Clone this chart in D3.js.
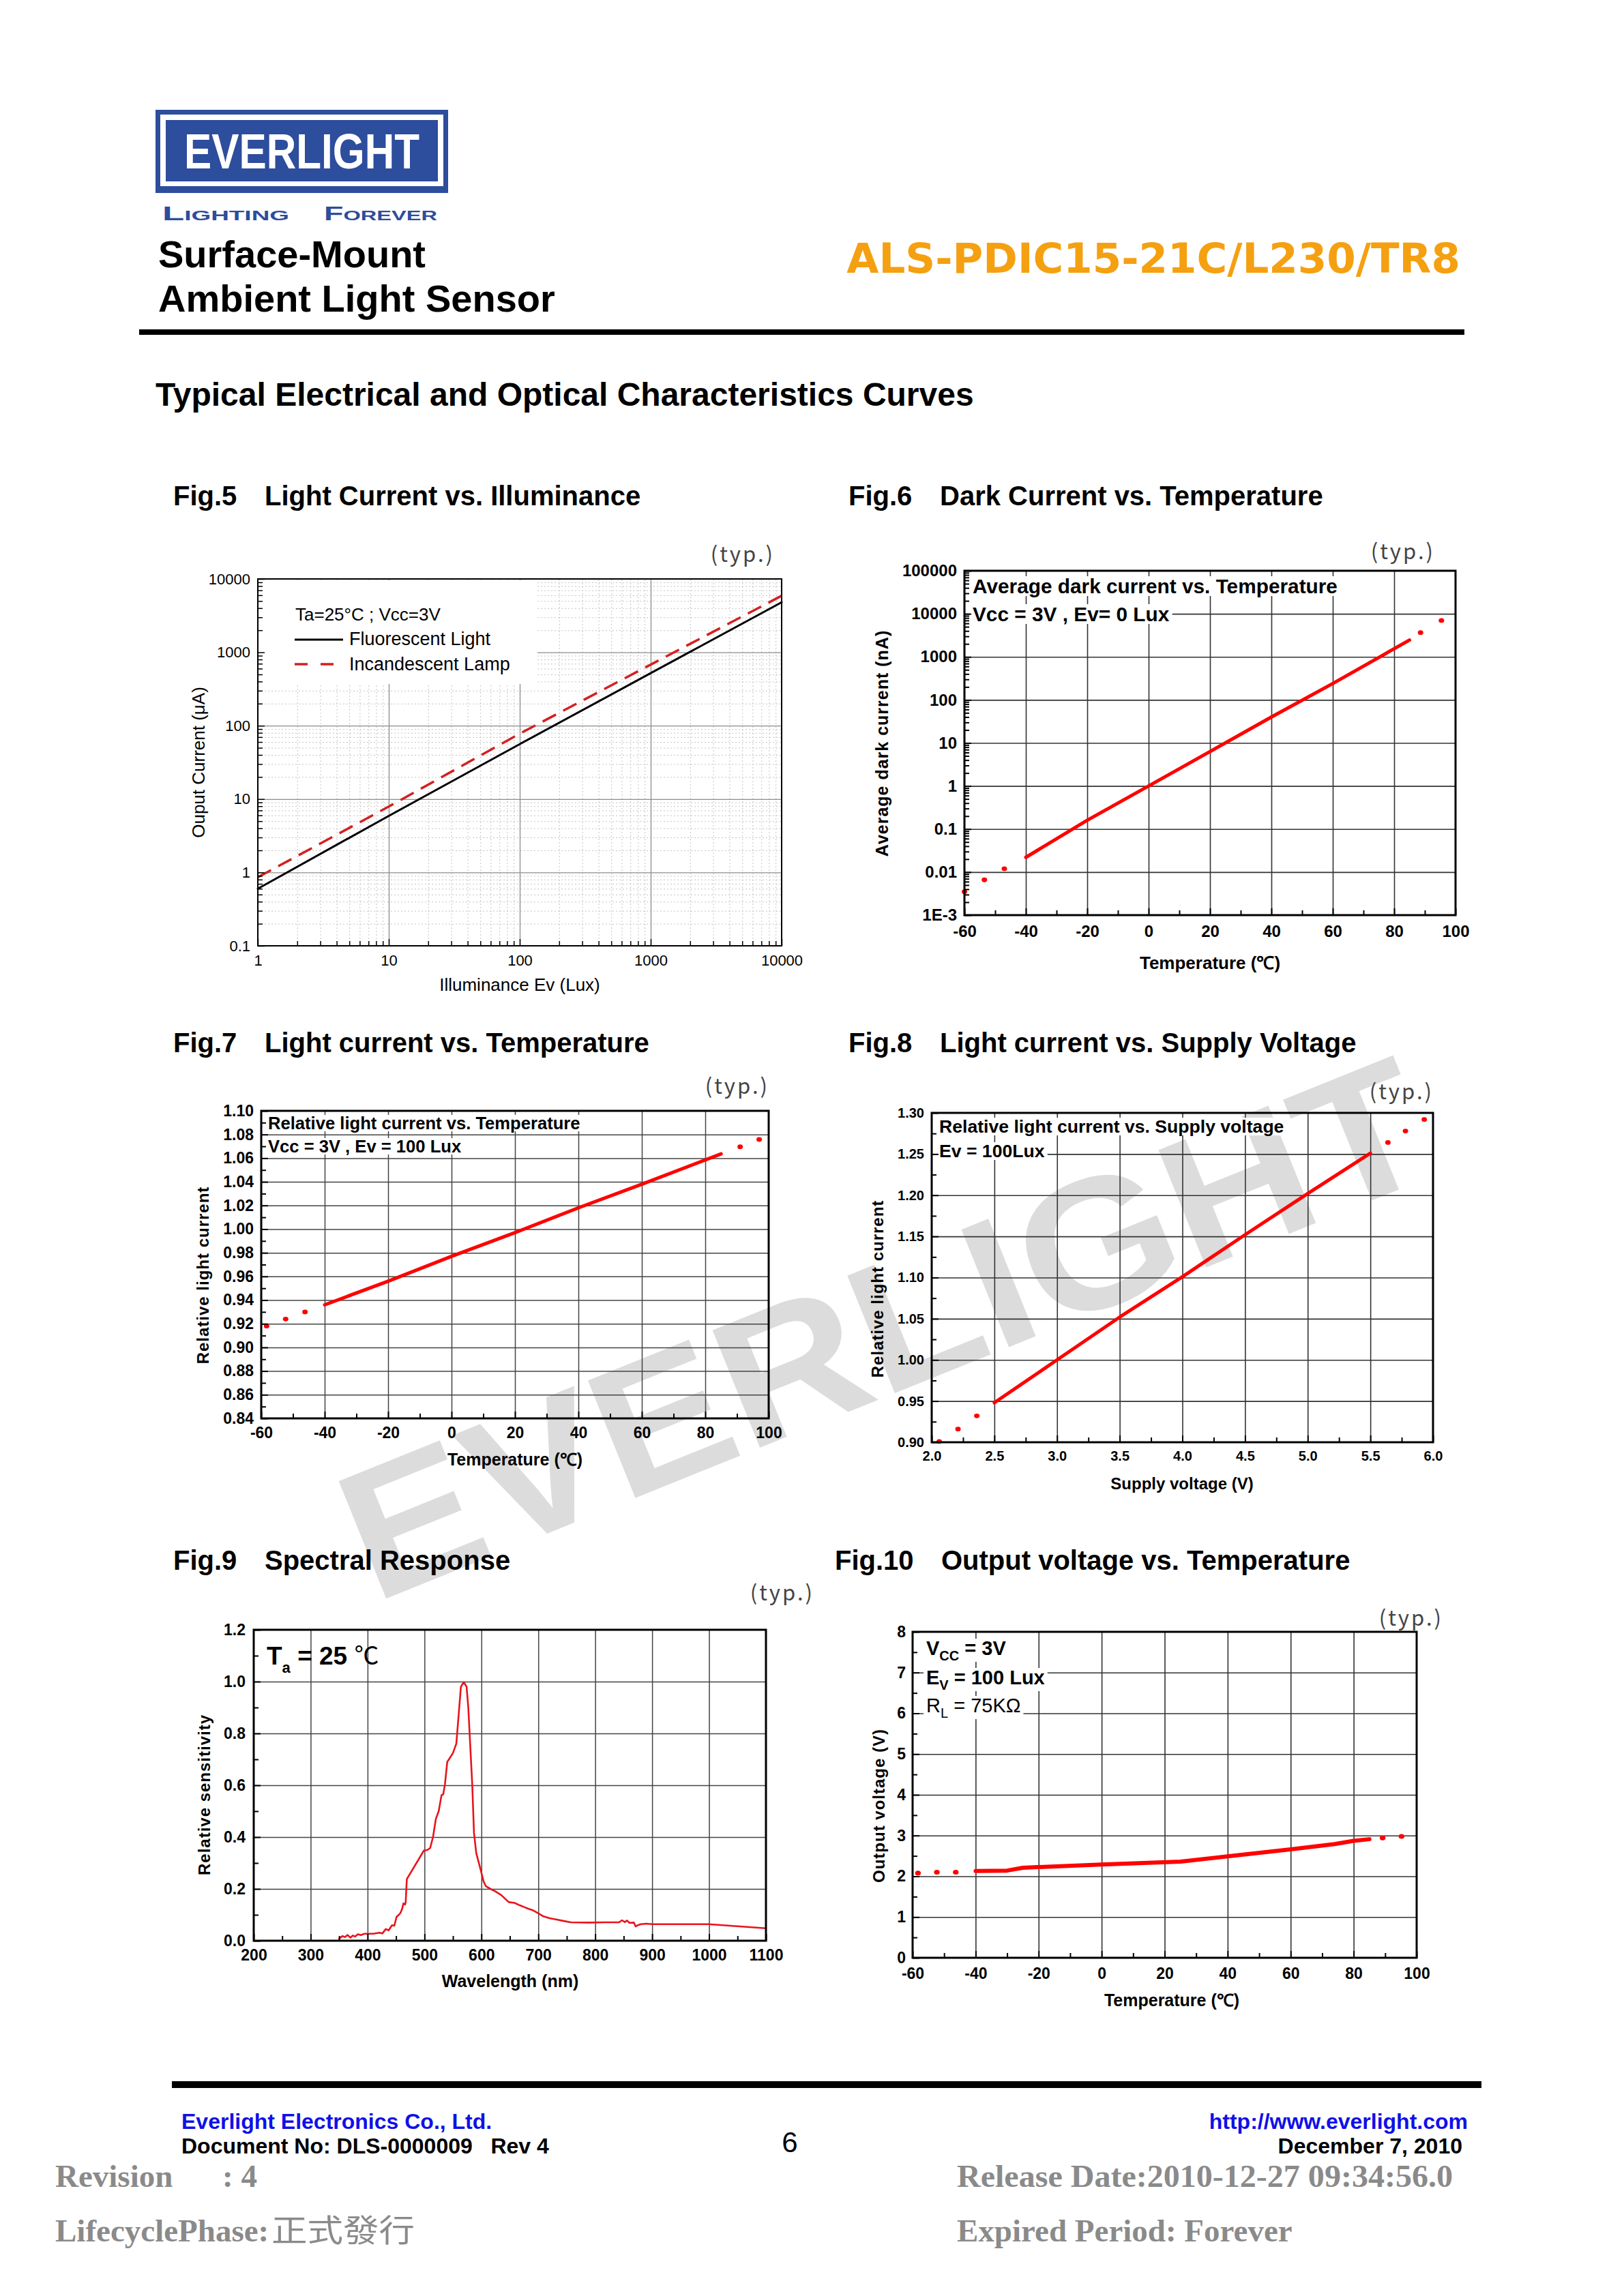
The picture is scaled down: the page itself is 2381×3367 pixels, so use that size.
<!DOCTYPE html>
<html><head><meta charset="utf-8">
<script src="https://cdn.jsdelivr.net/npm/d3@7"></script>
<style>
html,body{margin:0;padding:0;background:#fff;}
svg{display:block;}
</style></head><body>
<svg id="page" width="2381" height="3367"></svg>
<script>
// ---------------- DATA ----------------
// Fig.5 Light current vs illuminance
const fig5Lux = [1, 10, 100, 1000, 10000];
const fig5Fluorescent = [0.6, 5.9, 56, 520, 4800];
const fig5Incandescent = [0.86, 7.9, 78, 680, 5900];
const fig5XTicks = [1, 10, 100, 1000, 10000];
const fig5YTicks = [0.1, 1, 10, 100, 1000, 10000];
const fig5YLabels = ["0.1", "1", "10", "100", "1000", "10000"];

// Fig.6 Dark current vs temperature
const fig6Temp = [-40, -20, 0, 20, 40, 60, 85];
const fig6Dark = [0.022, 0.16, 1, 6.3, 40, 240, 2450];
const fig6DotTemp = [-60, -53.5, -47, 88.6, 95.4];
const fig6DotDark = [0.0035, 0.0066, 0.012, 3660, 7000];
const tempTicks = [-60, -40, -20, 0, 20, 40, 60, 80, 100];
const tempGrid = [-40, -20, 0, 20, 40, 60, 80];
const tempMinor = [-50, -30, -10, 10, 30, 50, 70, 90];
const fig6YTicks = [1e-3, 0.01, 0.1, 1, 10, 100, 1000, 10000, 100000];
const fig6YLabels = ["1E-3", "0.01", "0.1", "1", "10", "100", "1000", "10000", "100000"];

// Fig.7 Relative light current vs temperature
const fig7Temp = [-40, -20, 0, 20, 40, 60, 85];
const fig7Rel = [0.936, 0.956, 0.977, 0.997, 1.018, 1.038, 1.0636];
const fig7DotTemp = [-58.3, -52.3, -46.2, 91, 97];
const fig7DotRel = [0.918, 0.924, 0.930, 1.0696, 1.0758];
const fig7YTicks = [0.84, 0.86, 0.88, 0.90, 0.92, 0.94, 0.96, 0.98, 1.00, 1.02, 1.04, 1.06, 1.08, 1.10];
const fig7YGrid = [0.86, 0.88, 0.90, 0.92, 0.94, 0.96, 0.98, 1.00, 1.02, 1.04, 1.06, 1.08];
const fig7YMinor = [0.85, 0.87, 0.89, 0.91, 0.93, 0.95, 0.97, 0.99, 1.01, 1.03, 1.05, 1.07, 1.09];

// Fig.8 Relative light current vs supply voltage
const fig8Volt = [2.5, 3.0, 3.5, 4.0, 4.5, 5.0, 5.5];
const fig8Rel = [0.948, 1.0, 1.052, 1.101, 1.152, 1.202, 1.251];
const fig8DotVolt = [2.06, 2.21, 2.36, 5.64, 5.78, 5.93];
const fig8DotRel = [0.901, 0.916, 0.932, 1.264, 1.278, 1.292];
const fig8XTicks = [2.0, 2.5, 3.0, 3.5, 4.0, 4.5, 5.0, 5.5, 6.0];
const fig8XGrid = [2.5, 3.0, 3.5, 4.0, 4.5, 5.0, 5.5];
const fig8XMinor = [2.25, 2.75, 3.25, 3.75, 4.25, 4.75, 5.25, 5.75];
const fig8YTicks = [0.90, 0.95, 1.00, 1.05, 1.10, 1.15, 1.20, 1.25, 1.30];
const fig8YGrid = [0.95, 1.00, 1.05, 1.10, 1.15, 1.20, 1.25];
const fig8YMinor = [0.925, 0.975, 1.025, 1.075, 1.125, 1.175, 1.225, 1.275];

// Fig.9 Spectral response
const specWavelength = [350,356,360,365,370,374,378,383,388,395,410,421,426,432,437,443,447,451,455,458,461,463,466,467,469,499,505,510,515,520,525,530,533,536,540,543,550,556,560,564,569,574,577,580,584,587,591,598,604,608,616,624,635,648,658,665,675,683,690,698,709,720,731,745,757,790,816,842,847,852,856,860,868,871,875,880,890,900,927,960,999,1100];
const specSensitivity = [0.008,0.018,0.014,0.022,0.012,0.02,0.016,0.025,0.022,0.027,0.027,0.031,0.028,0.045,0.04,0.06,0.058,0.092,0.1,0.108,0.125,0.144,0.14,0.149,0.238,0.348,0.35,0.358,0.40,0.47,0.50,0.562,0.565,0.604,0.69,0.70,0.724,0.761,0.87,0.98,0.998,0.98,0.9,0.771,0.6,0.416,0.338,0.28,0.228,0.21,0.2,0.191,0.176,0.149,0.146,0.139,0.13,0.123,0.118,0.108,0.094,0.087,0.082,0.076,0.071,0.07,0.071,0.071,0.079,0.072,0.078,0.069,0.07,0.055,0.06,0.064,0.066,0.064,0.064,0.064,0.064,0.048];
const fig9XTicks = [200, 300, 400, 500, 600, 700, 800, 900, 1000, 1100];
const fig9XGrid = [300, 400, 500, 600, 700, 800, 900, 1000];
const fig9XMinor = [250, 350, 450, 550, 650, 750, 850, 950, 1050];
const fig9YTicks = [0, 0.2, 0.4, 0.6, 0.8, 1.0, 1.2];
const fig9YGrid = [0.2, 0.4, 0.6, 0.8, 1.0];
const fig9YMinor = [0.1, 0.3, 0.5, 0.7, 0.9, 1.1];

// Fig.10 Output voltage vs temperature
const fig10Temp = [-40, -30, -25, 0, 25, 40, 60, 74, 80, 85];
const fig10Volt = [2.13, 2.14, 2.21, 2.29, 2.36, 2.49, 2.66, 2.79, 2.87, 2.91];
const fig10DotTemp = [-58.3, -52.3, -46.3, 89.2, 95.2];
const fig10DotVolt = [2.08, 2.10, 2.10, 2.94, 2.98];
const fig10YTicks = [0, 1, 2, 3, 4, 5, 6, 7, 8];
const fig10YGrid = [1, 2, 3, 4, 5, 6, 7];
const fig10YMinor = [0.5, 1.5, 2.5, 3.5, 4.5, 5.5, 6.5, 7.5];

// ---------------- DRAWING ----------------
const svg = d3.select("#page");
const SANS = '"Liberation Sans", Arial, Helvetica, sans-serif';
const SERIF = '"Liberation Serif", "Times New Roman", serif';
const CJK = '"Noto Sans CJK JP", "Noto Sans CJK TC", sans-serif';
const RED = "#ff0000";
const BLUE_LOGO = "#2d4d9d";
const plainNum = d => String(d);

svg.append("rect").attr("width", 2381).attr("height", 3367).attr("fill", "#fff");

function txt(g, x, y, s, size, o = {}) {
  const t = g.append("text").attr("x", x).attr("y", y).text(s)
    .attr("font-family", o.family || SANS).attr("font-size", size)
    .attr("font-weight", o.weight || "normal").attr("fill", o.fill || "#000")
    .attr("text-anchor", o.anchor || "start");
  if (o.ls) t.attr("letter-spacing", o.ls);
  if (o.tl) t.attr("textLength", o.tl).attr("lengthAdjust", "spacingAndGlyphs");
  if (o.variant) t.attr("font-variant", o.variant);
  return t;
}

// Watermark (behind everything)
{
  const cx = 1295, cy = 1945, ang = -22;
  svg.append("text")
    .attr("transform", `translate(${cx},${cy}) rotate(${ang})`)
    .attr("x", 0).attr("y", 0).attr("dy", "0.36em")
    .attr("text-anchor", "middle")
    .attr("font-family", SANS).attr("font-weight", "bold").attr("font-size", 270)
    .attr("textLength", 1690).attr("lengthAdjust", "spacingAndGlyphs")
    .attr("fill", "#dcdcdc").text("EVERLIGHT");
}

// Header
{
  const g = svg.append("g");
  g.append("rect").attr("x", 228).attr("y", 161).attr("width", 429).attr("height", 122).attr("fill", BLUE_LOGO);
  g.append("rect").attr("x", 235).attr("y", 168).attr("width", 415).attr("height", 105).attr("fill", "#fff");
  g.append("rect").attr("x", 243).attr("y", 176).attr("width", 399).attr("height", 90).attr("fill", BLUE_LOGO);
  txt(g, 270, 247, "EVERLIGHT", 72, { weight: "bold", fill: "#fff", tl: 345 });
  txt(g, 238, 323, "Lighting", 30, { fill: BLUE_LOGO, variant: "small-caps", tl: 186, weight: "bold" });
  txt(g, 475, 323, "Forever", 30, { fill: BLUE_LOGO, variant: "small-caps", tl: 166, weight: "bold" });
  txt(g, 232, 392, "Surface-Mount", 56, { weight: "bold" });
  txt(g, 232, 457, "Ambient Light Sensor", 56, { weight: "bold" });
  txt(g, 2141, 400, "ALS-PDIC15-21C/L230/TR8", 61, { weight: "bold", fill: "#f5a011", anchor: "end", family: '"DejaVu Sans", Verdana, sans-serif' });
  g.append("rect").attr("x", 204).attr("y", 483).attr("width", 1943).attr("height", 8).attr("fill", "#000");
  txt(g, 228, 595, "Typical Electrical and Optical Characteristics Curves", 48, { weight: "bold" });
  // figure titles
  const titles = [
    [254, 388, 741, "Fig.5", "Light Current vs. Illuminance"],
    [1244, 1378, 741, "Fig.6", "Dark Current vs. Temperature"],
    [254, 388, 1543, "Fig.7", "Light current vs. Temperature"],
    [1244, 1378, 1543, "Fig.8", "Light current vs. Supply Voltage"],
    [254, 388, 2302, "Fig.9", "Spectral Response"],
    [1224, 1380, 2302, "Fig.10", "Output voltage vs. Temperature"]
  ];
  titles.forEach(t => {
    txt(g, t[0], t[2], t[3], 40, { weight: "bold" });
    txt(g, t[1], t[2], t[4], 40, { weight: "bold" });
  });
  // (typ.) marks
  [[1136, 824], [2104, 820], [1128, 1604], [2102, 1612], [1194, 2347], [2116, 2384]].forEach(p => {
    txt(g, p[0], p[1], "(typ.)", 31, { family: CJK, fill: "#444", anchor: "end", ls: 3 });
  });
}

// Footer
{
  const g = svg.append("g");
  g.append("rect").attr("x", 252).attr("y", 3052).attr("width", 1920).attr("height", 10).attr("fill", "#000");
  txt(g, 266, 3122, "Everlight Electronics Co., Ltd.", 32, { weight: "bold", fill: "#1010e8" });
  txt(g, 266, 3158, "Document No: DLS-0000009   Rev 4", 32, { weight: "bold" }).style("white-space", "pre");
  txt(g, 1158, 3156, "6", 42, { anchor: "middle" });
  txt(g, 2152, 3122, "http://www.everlight.com", 32, { weight: "bold", fill: "#1010e8", anchor: "end" });
  txt(g, 2144, 3158, "December 7, 2010", 32, { weight: "bold", anchor: "end" });
  const gray = "#8a8a8a";
  txt(g, 81, 3207, "Revision", 47, { family: SERIF, weight: "bold", fill: gray });
  txt(g, 326, 3207, ": 4", 47, { family: SERIF, weight: "bold", fill: gray });
  txt(g, 1403, 3207, "Release Date:2010-12-27 09:34:56.0", 47, { family: SERIF, weight: "bold", fill: gray, tl: 727 });
  txt(g, 81, 3287, "LifecyclePhase:", 47, { family: SERIF, weight: "bold", fill: gray });
  txt(g, 398, 3287, "正式發行", 46, { family: '"Noto Sans CJK TC", "Noto Sans CJK SC", sans-serif', fill: gray, tl: 210 });
  txt(g, 1403, 3287, "Expired Period: Forever", 47, { family: SERIF, weight: "bold", fill: gray });
}

// Generic chart
function drawChart(o) {
  const g = svg.append("g");
  const X = o.x.copy().range([o.left, o.right]);
  const Y = o.y.copy().range([o.bottom, o.top]);
  const W = o.right - o.left, H = o.bottom - o.top;
  const weight = o.bold ? "bold" : "normal";

  function styleAxis(sel) {
    sel.select(".domain").remove();
    sel.attr("font-family", SANS).attr("font-size", o.tickFont).attr("font-weight", weight);
    sel.selectAll("text").attr("fill", "#000");
  }

  // minor grid (dotted)
  if (o.minorGridX) {
    const a = g.append("g").attr("transform", `translate(0,${o.bottom})`)
      .call(d3.axisBottom(X).tickValues(o.minorGridX).tickSize(-H).tickFormat(""));
    a.select(".domain").remove();
    a.selectAll("line").attr("stroke", "#c4c4c4").attr("stroke-width", 1).attr("stroke-dasharray", "2,3");
    const b = g.append("g").attr("transform", `translate(${o.left},0)`)
      .call(d3.axisLeft(Y).tickValues(o.minorGridY).tickSize(-W).tickFormat(""));
    b.select(".domain").remove();
    b.selectAll("line").attr("stroke", "#c4c4c4").attr("stroke-width", 1).attr("stroke-dasharray", "2,3");
  }
  // major grid
  const gx = g.append("g").attr("transform", `translate(0,${o.bottom})`)
    .call(d3.axisBottom(X).tickValues(o.gridX).tickSize(-H).tickFormat(""));
  gx.select(".domain").remove();
  gx.selectAll("line").attr("stroke", o.gridColor).attr("stroke-width", o.gridWidth);
  const gy = g.append("g").attr("transform", `translate(${o.left},0)`)
    .call(d3.axisLeft(Y).tickValues(o.gridY).tickSize(-W).tickFormat(""));
  gy.select(".domain").remove();
  gy.selectAll("line").attr("stroke", o.gridColor).attr("stroke-width", o.gridWidth);

  // annotation lines with white background
  (o.notes || []).forEach(n => {
    const t = g.append("text").attr("x", n.x).attr("y", n.y).attr("font-family", SANS).attr("fill", "#000");
    n.parts.forEach(p => {
      const ts = t.append("tspan").text(p.t).attr("font-size", p.size)
        .attr("font-weight", p.weight || "bold");
      if (p.dy) ts.attr("dy", p.dy);
      if (p.family) ts.attr("font-family", p.family);
    });
    if (n.bg !== false) {
      const b = t.node().getBBox();
      g.insert("rect", () => t.node()).attr("x", b.x - 4).attr("y", b.y + 2)
        .attr("width", b.width + 8).attr("height", b.height - 4).attr("fill", "#fff");
    }
  });
  if (o.extra) o.extra(g, X, Y);

  // data series
  (o.series || []).forEach(s => {
    const pts = s.xs.map((v, i) => [v, s.ys[i]]);
    g.append("path").datum(pts)
      .attr("d", d3.line().x(d => X(d[0])).y(d => Y(d[1])))
      .attr("fill", "none").attr("stroke", s.color).attr("stroke-width", s.width)
      .attr("stroke-linejoin", "round").attr("stroke-linecap", s.cap || "round")
      .attr("stroke-dasharray", s.dash || null);
  });
  (o.dots || []).forEach(s => {
    g.selectAll(null).data(s.xs.map((v, i) => [v, s.ys[i]])).join("ellipse")
      .attr("cx", d => X(d[0])).attr("cy", d => Y(d[1]))
      .attr("rx", s.r).attr("ry", s.r * 0.85).attr("fill", s.color);
  });

  // frame
  g.append("rect").attr("x", o.left).attr("y", o.top).attr("width", W).attr("height", H)
    .attr("fill", "none").attr("stroke", "#000").attr("stroke-width", o.frameWidth);

  // minor ticks
  if (o.minorX) {
    const a = g.append("g").attr("transform", `translate(0,${o.bottom})`)
      .call(d3.axisBottom(X).tickValues(o.minorX).tickSize(-o.minorLen).tickFormat(""));
    a.select(".domain").remove();
    a.selectAll("line").attr("stroke", "#000").attr("stroke-width", o.tickWidth);
  }
  if (o.minorY) {
    const a = g.append("g").attr("transform", `translate(${o.left},0)`)
      .call(d3.axisLeft(Y).tickValues(o.minorY).tickSize(-o.minorLen).tickFormat(""));
    a.select(".domain").remove();
    a.selectAll("line").attr("stroke", "#000").attr("stroke-width", o.tickWidth);
  }
  // major ticks + labels
  const ax = g.append("g").attr("transform", `translate(0,${o.bottom})`)
    .call(d3.axisBottom(X).tickValues(o.xTicks).tickSize(-o.majorLen).tickPadding(o.xPad).tickFormat(o.xFormat));
  styleAxis(ax);
  ax.selectAll("line").attr("stroke", "#000").attr("stroke-width", o.tickWidth);
  const ay = g.append("g").attr("transform", `translate(${o.left},0)`)
    .call(d3.axisLeft(Y).tickValues(o.yTicks).tickSize(-o.majorLen).tickPadding(o.yPad).tickFormat(o.yFormat));
  styleAxis(ay);
  ay.selectAll("line").attr("stroke", "#000").attr("stroke-width", o.tickWidth);

  // axis titles
  g.append("text").attr("x", o.xTitle[0]).attr("y", o.xTitle[1]).attr("text-anchor", "middle")
    .attr("font-family", SANS).attr("font-size", o.titleFont).attr("font-weight", weight)
    .text(o.xTitle[2]);
  g.append("text").attr("transform", `translate(${o.yTitle[0]},${o.yTitle[1]}) rotate(-90)`)
    .attr("text-anchor", "middle").attr("font-family", SANS).attr("font-size", o.yTitleFont || o.titleFont)
    .attr("font-weight", weight).attr("letter-spacing", o.yTitleLs || 0).text(o.yTitle[2]);
  return { g, X, Y };
}

function logMinors(domain) {
  return d3.scaleLog().domain(domain).ticks().filter(v => {
    const e = Math.log10(v);
    return Math.abs(e - Math.round(e)) > 1e-6;
  });
}

// Fig.5
drawChart({
  left: 378, right: 1146, top: 849, bottom: 1387,
  x: d3.scaleLog().domain([1, 10000]), y: d3.scaleLog().domain([0.1, 10000]),
  minorGridX: logMinors([1, 10000]), minorGridY: logMinors([0.1, 10000]),
  gridX: [10, 100, 1000], gridY: [1, 10, 100, 1000], gridColor: "#8c8c8c", gridWidth: 1.3,
  minorX: logMinors([1, 10000]), minorY: logMinors([0.1, 10000]), minorLen: 7, majorLen: 10, tickWidth: 1.5,
  xTicks: fig5XTicks, yTicks: fig5YTicks, xFormat: d3.format("d"), yFormat: (d, i) => fig5YLabels[i],
  xPad: 13, yPad: 11, tickFont: 22, bold: false, frameWidth: 2,
  titleFont: 26, xTitle: [762, 1453, "Illuminance Ev (Lux)"], yTitle: [300, 1118, "Ouput Current (μA)"],
  extra: (g) => {
    g.append("rect").attr("x", 380).attr("y", 851).attr("width", 408).attr("height", 152).attr("fill", "#fff");
    txt(g, 433, 910, "Ta=25°C ; Vcc=3V", 26);
    g.append("line").attr("x1", 432).attr("x2", 503).attr("y1", 938).attr("y2", 938).attr("stroke", "#000").attr("stroke-width", 3);
    txt(g, 512, 946, "Fluorescent Light", 27);
    g.append("line").attr("x1", 432).attr("x2", 503).attr("y1", 974).attr("y2", 974).attr("stroke", "#d42020").attr("stroke-width", 3.5).attr("stroke-dasharray", "19,19");
    txt(g, 512, 983, "Incandescent Lamp", 27);
  },
  series: [
    { xs: fig5Lux, ys: fig5Incandescent, color: "#d42020", width: 3.5, dash: "22,12", cap: "butt" },
    { xs: fig5Lux, ys: fig5Fluorescent, color: "#000", width: 3 }
  ]
});

// Fig.6
drawChart({
  left: 1414, right: 2134, top: 837, bottom: 1342,
  x: d3.scaleLinear().domain([-60, 100]), y: d3.scaleLog().domain([1e-3, 1e5]),
  gridX: tempGrid, gridY: [0.01, 0.1, 1, 10, 100, 1000, 10000], gridColor: "#333", gridWidth: 1.6,
  minorX: tempMinor, minorY: logMinors([1e-3, 1e5]), minorLen: 7, majorLen: 10, tickWidth: 2,
  xTicks: tempTicks, yTicks: fig6YTicks, xFormat: plainNum, yFormat: (d, i) => fig6YLabels[i],
  xPad: 15, yPad: 11, tickFont: 24, bold: true, frameWidth: 3,
  titleFont: 26, xTitle: [1774, 1421, "Temperature (℃)"], yTitle: [1302, 1090, "Average dark current (nA)"], yTitleFont: 25, yTitleLs: 1,
  notes: [
    { x: 1426, y: 870, parts: [{ t: "Average dark current vs. Temperature", size: 29.8 }] },
    { x: 1426, y: 911, parts: [{ t: "Vcc = 3V , Ev= 0 Lux", size: 29.8 }] }
  ],
  series: [{ xs: fig6Temp, ys: fig6Dark, color: RED, width: 5 }],
  dots: [{ xs: fig6DotTemp, ys: fig6DotDark, color: RED, r: 4 }]
});

// Fig.7
drawChart({
  left: 383, right: 1127, top: 1629, bottom: 2080,
  x: d3.scaleLinear().domain([-60, 100]), y: d3.scaleLinear().domain([0.84, 1.10]),
  gridX: tempGrid, gridY: fig7YGrid, gridColor: "#444", gridWidth: 1.5,
  minorX: tempMinor, minorY: fig7YMinor, minorLen: 7, majorLen: 10, tickWidth: 2,
  xTicks: tempTicks, yTicks: fig7YTicks, xFormat: plainNum, yFormat: d3.format(".2f"),
  xPad: 13, yPad: 11, tickFont: 23, bold: true, frameWidth: 3,
  titleFont: 25, xTitle: [755, 2149, "Temperature (℃)"], yTitle: [306, 1870, "Relative light current"], yTitleFont: 24, yTitleLs: 1,
  notes: [
    { x: 393, y: 1656, parts: [{ t: "Relative light current vs. Temperature", size: 25.6 }] },
    { x: 393, y: 1690, parts: [{ t: "Vcc = 3V , Ev = 100 Lux", size: 25.6 }] }
  ],
  series: [{ xs: fig7Temp, ys: fig7Rel, color: RED, width: 5 }],
  dots: [{ xs: fig7DotTemp, ys: fig7DotRel, color: RED, r: 4 }]
});

// Fig.8
drawChart({
  left: 1366, right: 2101, top: 1632, bottom: 2115,
  x: d3.scaleLinear().domain([2.0, 6.0]), y: d3.scaleLinear().domain([0.90, 1.30]),
  gridX: fig8XGrid, gridY: fig8YGrid, gridColor: "#333", gridWidth: 1.6,
  minorX: fig8XMinor, minorY: fig8YMinor, minorLen: 7, majorLen: 10, tickWidth: 2,
  xTicks: fig8XTicks, yTicks: fig8YTicks, xFormat: d3.format(".1f"), yFormat: d3.format(".2f"),
  xPad: 13, yPad: 11, tickFont: 20, bold: true, frameWidth: 3,
  titleFont: 24, xTitle: [1733, 2184, "Supply voltage (V)"], yTitle: [1295, 1890, "Relative light current"], yTitleFont: 24, yTitleLs: 1,
  notes: [
    { x: 1377, y: 1661, parts: [{ t: "Relative light current vs. Supply voltage", size: 26.6 }] },
    { x: 1377, y: 1697, parts: [{ t: "Ev = 100Lux", size: 26.6 }] }
  ],
  series: [{ xs: fig8Volt, ys: fig8Rel, color: RED, width: 5 }],
  dots: [{ xs: fig8DotVolt, ys: fig8DotRel, color: RED, r: 4 }]
});

// Fig.9
drawChart({
  left: 372, right: 1123, top: 2390, bottom: 2846,
  x: d3.scaleLinear().domain([200, 1100]), y: d3.scaleLinear().domain([0, 1.2]),
  gridX: fig9XGrid, gridY: fig9YGrid, gridColor: "#444", gridWidth: 1.5,
  minorX: fig9XMinor, minorY: fig9YMinor, minorLen: 7, majorLen: 10, tickWidth: 2,
  xTicks: fig9XTicks, yTicks: fig9YTicks, xFormat: d3.format("d"), yFormat: d3.format(".1f"),
  xPad: 13, yPad: 12, tickFont: 23, bold: true, frameWidth: 3,
  titleFont: 25, xTitle: [748, 2914, "Wavelength (nm)"], yTitle: [308, 2632, "Relative sensitivity"], yTitleFont: 24, yTitleLs: 1,
  notes: [
    { x: 391, y: 2441, bg: false, parts: [
      { t: "T", size: 37 }, { t: "a", size: 22, dy: 12 }, { t: " = 25 ", size: 37, dy: -12 },
      { t: "℃", size: 36, weight: "normal", family: CJK }] }
  ],
  series: [{ xs: specWavelength, ys: specSensitivity, color: "#e8141c", width: 2.6 }]
});

// Fig.10
drawChart({
  left: 1338, right: 2077, top: 2393, bottom: 2871,
  x: d3.scaleLinear().domain([-60, 100]), y: d3.scaleLinear().domain([0, 8]),
  gridX: tempGrid, gridY: fig10YGrid, gridColor: "#333", gridWidth: 1.6,
  minorX: tempMinor, minorY: fig10YMinor, minorLen: 7, majorLen: 10, tickWidth: 2,
  xTicks: tempTicks, yTicks: fig10YTicks, xFormat: plainNum, yFormat: d3.format("d"),
  xPad: 15, yPad: 10, tickFont: 23, bold: true, frameWidth: 3,
  titleFont: 25, xTitle: [1718, 2942, "Temperature (℃)"], yTitle: [1297, 2648, "Output voltage (V)"], yTitleFont: 24, yTitleLs: 1,
  notes: [
    { x: 1358, y: 2427, parts: [{ t: "V", size: 29 }, { t: "CC", size: 20, dy: 8 }, { t: " = 3V", size: 29, dy: -8 }] },
    { x: 1358, y: 2470, parts: [{ t: "E", size: 29 }, { t: "V", size: 20, dy: 8 }, { t: " = 100 Lux", size: 29, dy: -8 }] },
    { x: 1358, y: 2511, parts: [{ t: "R", size: 29, weight: "normal" }, { t: "L", size: 20, dy: 8, weight: "normal" }, { t: " = 75KΩ", size: 29, dy: -8, weight: "normal" }] }
  ],
  series: [{ xs: fig10Temp, ys: fig10Volt, color: RED, width: 6 }],
  dots: [{ xs: fig10DotTemp, ys: fig10DotVolt, color: RED, r: 4.2 }]
});
</script>
</body></html>
